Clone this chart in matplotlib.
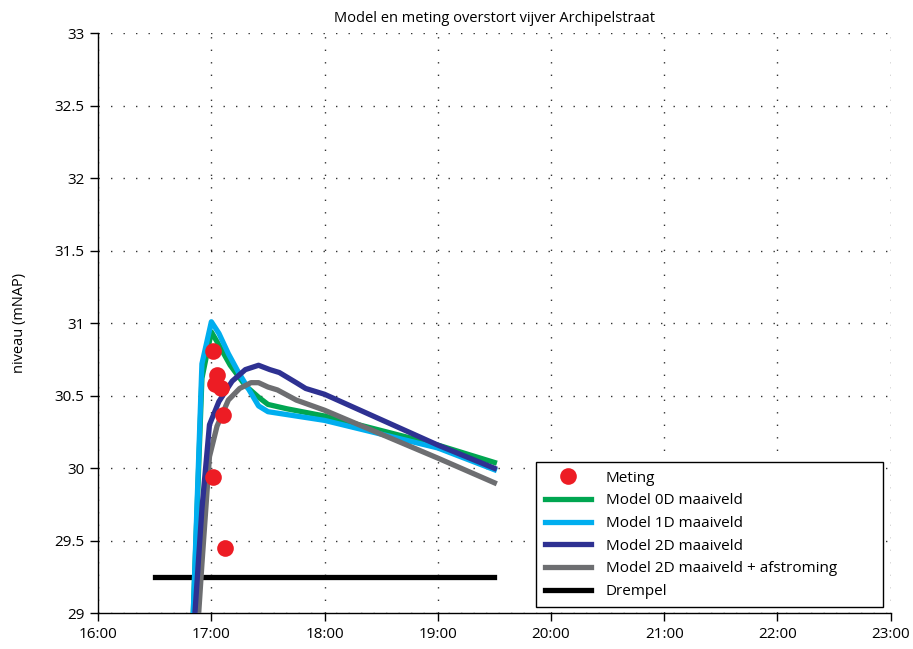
import matplotlib
matplotlib.use("Agg")
import matplotlib.pyplot as plt
from matplotlib.ticker import FuncFormatter, MultipleLocator

plt.rcParams['font.family'] = ['Open Sans', 'DejaVu Sans']

# ---- data (times as HH:MM, levels in mNAP) ----
meting_t = ["17:01", "17:03", "17:02", "17:05", "17:06", "17:01", "17:07"]
meting_v = [30.81, 30.64, 30.58, 30.55, 30.37, 29.94, 29.45]

m0d_t = ["16:50", "16:55", "17:00", "17:04", "17:10", "17:18", "17:25", "17:30",
         "17:40", "18:00", "19:00", "19:30"]
m0d_v = [28.85, 30.62, 30.94, 30.85, 30.71, 30.57, 30.49, 30.44,
         30.41, 30.36, 30.16, 30.04]

m1d_t = ["16:50", "16:55", "17:00", "17:04", "17:09", "17:14", "17:20", "17:25",
         "17:30", "18:00", "19:00", "19:30"]
m1d_v = [28.85, 30.72, 31.01, 30.93, 30.79, 30.67, 30.54, 30.43,
         30.39, 30.33, 30.14, 29.99]

m2d_t = ["16:50", "16:55", "16:59", "17:04", "17:11", "17:18", "17:25", "17:31",
         "17:36", "17:45", "17:50", "18:00", "19:00", "19:30"]
m2d_v = [28.75, 29.72, 30.30, 30.46, 30.60, 30.68, 30.71, 30.68,
         30.66, 30.59, 30.55, 30.51, 30.16, 30.00]

m2da_t = ["16:50", "16:55", "16:59", "17:03", "17:09", "17:15", "17:21", "17:25",
          "17:30", "17:35", "17:45", "18:00", "19:00", "19:30"]
m2da_v = [28.35, 29.34, 30.08, 30.29, 30.47, 30.55, 30.59, 30.59,
          30.56, 30.54, 30.47, 30.40, 30.07, 29.90]

drempel_t = ["16:30", "19:30"]
drempel_v = [29.25, 29.25]

x_ticks = ["16:00", "17:00", "18:00", "19:00", "20:00", "21:00", "22:00", "23:00"]


def hours(ts):
    out = []
    for t in ts:
        h, m = t.split(":")
        out.append(int(h) + int(m) / 60.0)
    return out


fig = plt.figure(figsize=(9.13, 6.49), dpi=100)
ax = fig.add_axes([0.1075, 0.055, 0.868, 0.894])

lw = 3.8
ax.plot(hours(meting_t), meting_v, 'o', color='#ED1C24', markersize=12,
        markeredgewidth=0, label='Meting', zorder=6)
ax.plot(hours(m0d_t), m0d_v, color='#00A651', lw=lw, label='Model 0D maaiveld', zorder=3)
ax.plot(hours(m1d_t), m1d_v, color='#00AEEF', lw=lw, label='Model 1D maaiveld', zorder=4)
ax.plot(hours(m2d_t), m2d_v, color='#2E3192', lw=lw, label='Model 2D maaiveld', zorder=5)
ax.plot(hours(m2da_t), m2da_v, color='#6D6E71', lw=lw,
        label='Model 2D maaiveld + afstroming', zorder=4.5)
ax.plot(hours(drempel_t), drempel_v, color='black', lw=lw, label='Drempel', zorder=2)

xt = hours(x_ticks)
ax.set_xlim(xt[0], xt[-1])
ax.set_ylim(29, 33)
ax.set_xticks(xt)
ax.set_xticklabels(x_ticks)
ax.yaxis.set_major_locator(MultipleLocator(0.5))
ax.yaxis.set_major_formatter(FuncFormatter(lambda v, p: f"{v:g}"))

for s in ['top', 'right']:
    ax.spines[s].set_visible(False)
for s in ['left', 'bottom']:
    ax.spines[s].set_linewidth(1.0)
    ax.spines[s].set_color('black')

ax.tick_params(direction='out', length=6, width=1, labelsize=11, pad=4)
ax.grid(True, linestyle=(0, (1, 8)), color='#333333', linewidth=1.0)
ax.set_axisbelow(True)

ax.set_ylabel('niveau (mNAP)', fontsize=10.5)
ax.yaxis.set_label_coords(-0.09, 0.5)
ax.set_title('Model en meting overstort vijver Archipelstraat', fontsize=10.5, pad=8)

leg = ax.legend(loc='lower left', bbox_to_anchor=(0.553, 0.0103, 0.437, 0.252),
                mode='expand', fontsize=11,
                frameon=True, fancybox=False, edgecolor='black', framealpha=1,
                handlelength=3.0, labelspacing=0.5, borderpad=0.55,
                handletextpad=1.0, borderaxespad=0)
leg.get_frame().set_linewidth(1.0)

fig.savefig('out.png', dpi=100)
